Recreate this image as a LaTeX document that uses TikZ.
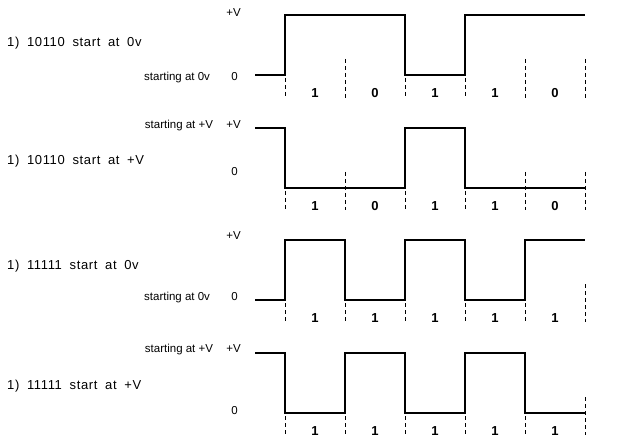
\documentclass[tikz,border=0pt]{standalone}
\usepackage{fontspec}
\setmainfont{Liberation Sans}
\newfontfamily\wavefont[LetterSpace=5, WordSpace=1.8]{Liberation Sans}
\usetikzlibrary{positioning}

\begin{document}
\begin{tikzpicture}[
    x=1pt, y=-1pt,
    every node/.style={inner sep=0pt, text depth=0pt},
    rowlabel/.style={anchor=west, font=\wavefont\fontsize{13}{15}\selectfont, text height=9.3pt},
    levellabel/.style={anchor=east, font=\fontsize{11.5}{13}\selectfont, text height=8.2pt},
    bitlabel/.style={font=\bfseries\fontsize{13}{15}\selectfont, text height=9.3pt},
    signal/.style={line width=1.5pt},
    bitline/.style={line width=0.9pt, dash pattern=on 4pt off 3pt},
]
    \fill[white] (0,0) rectangle (620,438);
    \useasboundingbox (0,0) rectangle (620,438);

    % 10110 starting low
    \node[rowlabel] (row1) at (7,42) {1) 10110 start at 0v};
    \node[levellabel] (hi1) at (241,12) {+V};
    \node[levellabel] (lo1) at (238,76) {0};
    \node[levellabel, left=21pt of lo1] (st1) {starting at 0v};
    \draw[signal] (255,75) -- (285,75) -- (285,15) -- (405,15) -- (405,75)
        -- (465,75) -- (465,15) -- (585,15);
    \foreach \x in {285,405,465} \draw[bitline] (\x,78) -- (\x,98);
    \foreach \x in {345,525,585} \draw[bitline] (\x,59) -- (\x,98);
    \foreach \x/\b in {315/1,375/0,435/1,495/1,555/0}
        \node[bitlabel] (bit1-\x) at (\x,93) {\b};

    % 10110 starting high
    \node[rowlabel] (row2) at (7,160) {1) 10110 start at +V};
    \node[levellabel] (hi2) at (241,124) {+V};
    \node[levellabel, left=13pt of hi2] (st2) {starting at +V};
    \node[levellabel] (lo2) at (238,171) {0};
    \draw[signal] (255,128) -- (285,128) -- (285,188) -- (405,188) -- (405,128)
        -- (465,128) -- (465,188) -- (585,188);
    \foreach \x in {285,405,465} \draw[bitline] (\x,191) -- (\x,210);
    \foreach \x in {345,525,585} \draw[bitline] (\x,172) -- (\x,210);
    \foreach \x/\b in {315/1,375/0,435/1,495/1,555/0}
        \node[bitlabel] (bit2-\x) at (\x,206) {\b};

    % 11111 starting low
    \node[rowlabel] (row3) at (7,265) {1) 11111 start at 0v};
    \node[levellabel] (hi3) at (241,235) {+V};
    \node[levellabel] (lo3) at (238,296) {0};
    \node[levellabel, left=21pt of lo3] (st3) {starting at 0v};
    \draw[signal] (255,300) -- (285,300) -- (285,240) -- (345,240) -- (345,300)
        -- (405,300) -- (405,240) -- (465,240) -- (465,300) -- (525,300)
        -- (525,240) -- (585,240);
    \foreach \x in {285,345,405,465,525} \draw[bitline] (\x,303) -- (\x,322);
    \draw[bitline] (585,284) -- (585,322);
    \foreach \x in {315,375,435,495,555}
        \node[bitlabel] (bit3-\x) at (\x,318) {1};

    % 11111 starting high
    \node[rowlabel] (row4) at (7,385) {1) 11111 start at +V};
    \node[levellabel] (hi4) at (241,348) {+V};
    \node[levellabel, left=13pt of hi4] (st4) {starting at +V};
    \node[levellabel] (lo4) at (238,410) {0};
    \draw[signal] (255,353) -- (285,353) -- (285,413) -- (345,413) -- (345,353)
        -- (405,353) -- (405,413) -- (465,413) -- (465,353) -- (525,353)
        -- (525,413) -- (585,413);
    \foreach \x in {285,345,405,465,525} \draw[bitline] (\x,416) -- (\x,435);
    \draw[bitline] (585,397) -- (585,435);
    \foreach \x in {315,375,435,495,555}
        \node[bitlabel] (bit4-\x) at (\x,431) {1};
\end{tikzpicture}
\end{document}
